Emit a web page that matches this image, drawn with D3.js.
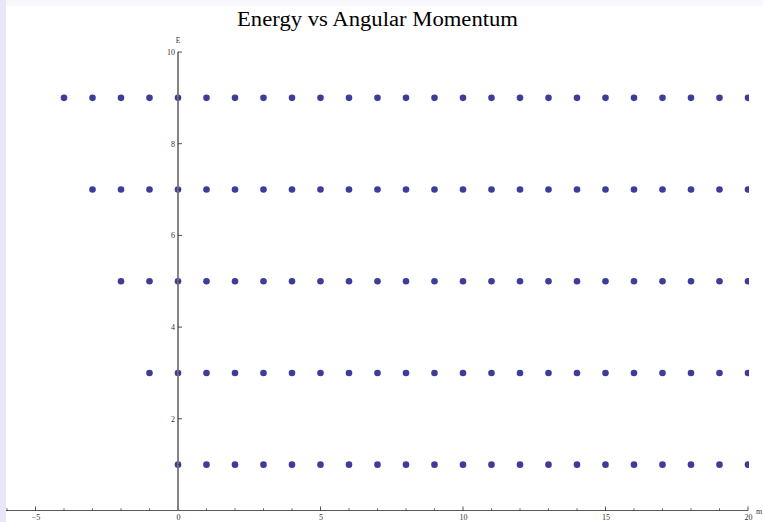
<!DOCTYPE html>
<html>
<head>
<meta charset="utf-8">
<script src="https://cdn.jsdelivr.net/npm/d3@7"></script>
<style>
  html, body { margin: 0; padding: 0; background: #f8f8fd; }
  svg { display: block; }
</style>
</head>
<body>
<script>
// Energy levels and the allowed angular momentum values on each level
const energies = [1, 3, 5, 7, 9];
const mLevel1 = [0, 1, 2, 3, 4, 5, 6, 7, 8, 9, 10, 11, 12, 13, 14, 15, 16, 17, 18, 19, 20];
const mLevel3 = [-1, 0, 1, 2, 3, 4, 5, 6, 7, 8, 9, 10, 11, 12, 13, 14, 15, 16, 17, 18, 19, 20];
const mLevel5 = [-2, -1, 0, 1, 2, 3, 4, 5, 6, 7, 8, 9, 10, 11, 12, 13, 14, 15, 16, 17, 18, 19, 20];
const mLevel7 = [-3, -2, -1, 0, 1, 2, 3, 4, 5, 6, 7, 8, 9, 10, 11, 12, 13, 14, 15, 16, 17, 18, 19, 20];
const mLevel9 = [-4, -3, -2, -1, 0, 1, 2, 3, 4, 5, 6, 7, 8, 9, 10, 11, 12, 13, 14, 15, 16, 17, 18, 19, 20];
const mByLevel = [mLevel1, mLevel3, mLevel5, mLevel7, mLevel9];

const xMajorTicks = [-5, 0, 5, 10, 15, 20];
const xMinorTicks = [-6, -4, -3, -2, -1, 1, 2, 3, 4, 6, 7, 8, 9, 11, 12, 13, 14, 16, 17, 18, 19];
const yMajorTicks = [2, 4, 6, 8, 10];
const yMinorTicks = [1, 3, 5, 7, 9];

const W = 763, H = 522;
const svg = d3.select("body").append("svg").attr("width", W).attr("height", H);

// frame strips and white plotting sheet
svg.append("rect").attr("x", 0).attr("y", 0).attr("width", W).attr("height", H).attr("fill", "#f8f8fd");
svg.append("rect").attr("x", 0).attr("y", 0).attr("width", 6).attr("height", H).attr("fill", "#e7e7f7");
svg.append("rect").attr("x", 6).attr("y", 6).attr("width", W - 6).attr("height", H - 6).attr("fill", "#ffffff");

const x = d3.scaleLinear().domain([-5, 20]).range([35.5, 748]);
const y = d3.scaleLinear().domain([0, 10]).range([510.5, 52]);

svg.append("defs").append("clipPath").attr("id", "plotClip")
  .append("rect").attr("x", 6).attr("y", 6).attr("width", 749 - 6).attr("height", H - 6);

const points = [];
energies.forEach((e, i) => mByLevel[i].forEach(m => points.push({ m, e })));

svg.append("g").attr("clip-path", "url(#plotClip)")
  .selectAll("circle").data(points).join("circle")
  .attr("cx", d => x(d.m)).attr("cy", d => y(d.e)).attr("r", 3.3)
  .attr("fill", "#3d3c98");

const serif = "'Liberation Serif', 'Times New Roman', serif";
const axisColor = "#5a5a5a";

// horizontal axis
const x0 = x.invert(6);
const xAxis = svg.append("g").attr("transform", `translate(0,${y(0)})`)
  .call(d3.axisBottom(x).tickValues(xMajorTicks).tickSize(0).tickPadding(4)
    .tickFormat(d => d < 0 ? "\u2212" + Math.abs(d) : d));
xAxis.select(".domain").remove();
xAxis.append("line").attr("x1", x(x0)).attr("x2", x(20)).attr("stroke", axisColor).attr("stroke-width", 1.2);
xAxis.selectAll(".tick text").attr("font-family", serif).attr("font-size", 8).attr("fill", "#333");
xAxis.selectAll(".major").data(xMajorTicks).join("line")
  .attr("x1", d => x(d)).attr("x2", d => x(d)).attr("y1", 0).attr("y2", -4)
  .attr("stroke", "#222").attr("stroke-width", 0.8);
xAxis.selectAll(".minor").data(xMinorTicks.filter(d => d >= x0)).join("line")
  .attr("x1", d => x(d)).attr("x2", d => x(d)).attr("y1", 0).attr("y2", -2.2)
  .attr("stroke", "#222").attr("stroke-width", 0.7);
svg.append("text").attr("x", 756).attr("y", y(0) + 3.5).attr("font-family", serif)
  .attr("font-size", 8).attr("fill", "#333").text("m");

// vertical axis
const yAxis = svg.append("g").attr("transform", `translate(${x(0)},0)`)
  .call(d3.axisLeft(y).tickValues(yMajorTicks).tickSize(0).tickPadding(3));
yAxis.select(".domain").remove();
yAxis.append("line").attr("y1", y(0)).attr("y2", y(10)).attr("stroke", "#777").attr("stroke-width", 1.8);
yAxis.selectAll(".tick text").attr("font-family", serif).attr("font-size", 8).attr("fill", "#333");
yAxis.selectAll(".major").data(yMajorTicks).join("line")
  .attr("y1", d => y(d)).attr("y2", d => y(d)).attr("x1", 0).attr("x2", 4)
  .attr("stroke", "#222").attr("stroke-width", 0.8);
yAxis.selectAll(".minor").data(yMinorTicks).join("line")
  .attr("y1", d => y(d)).attr("y2", d => y(d)).attr("x1", 0).attr("x2", 2.2)
  .attr("stroke", "#222").attr("stroke-width", 0.7);
svg.append("text").attr("x", x(0)).attr("y", 43).attr("text-anchor", "middle")
  .attr("font-family", serif).attr("font-size", 7.5).attr("fill", "#333").text("E");

// title
svg.append("text").attr("x", 377.5).attr("y", 26).attr("text-anchor", "middle")
  .attr("font-family", serif).attr("font-size", 20.5).attr("fill", "#000")
  .attr("textLength", 281).attr("lengthAdjust", "spacingAndGlyphs")
  .text("Energy vs Angular Momentum");
</script>
</body>
</html>
